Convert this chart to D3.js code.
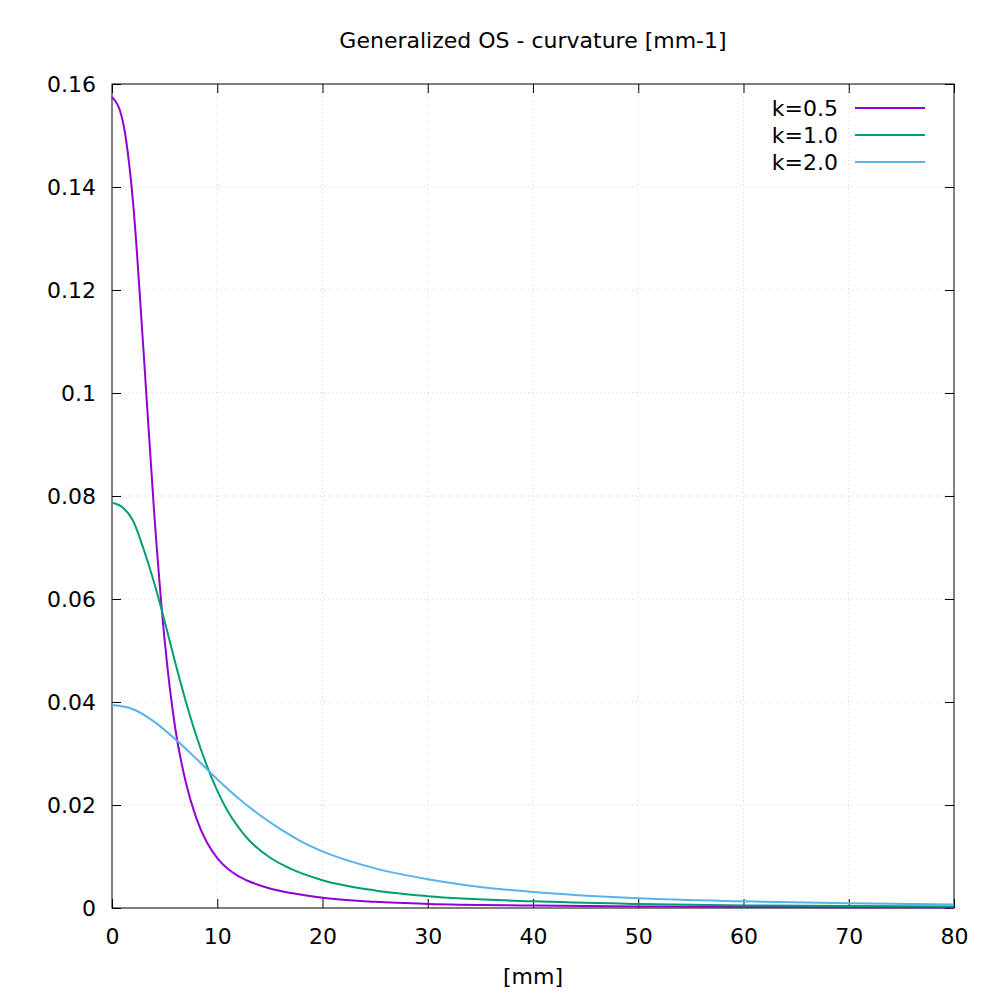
<!DOCTYPE html>
<html>
<head>
<meta charset="utf-8">
<script src="https://cdn.jsdelivr.net/npm/d3@7"></script>
<style>
  body { margin: 0; background: #fff; }
  text { font-family: "DejaVu Sans", sans-serif; fill: #000; }
</style>
</head>
<body>
<svg id="chart" width="1000" height="1000"></svg>
<script>
// values
const xK05 = [0, 1, 2, 3, 4, 5, 6, 7, 8, 9, 10, 11, 12, 13, 15, 17, 20, 25, 30, 40, 50, 60, 70, 80];
const yK05 = [0.1575, 0.153, 0.137, 0.108, 0.077, 0.052, 0.035, 0.0245, 0.0175, 0.0128, 0.0097, 0.0076, 0.0062, 0.0052, 0.0038, 0.0029, 0.002, 0.0012, 0.0008, 0.0005, 0.0003, 0.0002, 0.00015, 0.0001];
const xK10 = [0, 1, 2, 3, 4, 5, 6, 7, 8, 9, 10, 11, 12, 13, 15, 17, 20, 25, 30, 40, 50, 60, 70, 80];
const yK10 = [0.0787, 0.0778, 0.0752, 0.0697, 0.0632, 0.0557, 0.0477, 0.0402, 0.0335, 0.0277, 0.0228, 0.0188, 0.0157, 0.0132, 0.0098, 0.0076, 0.0054, 0.0034, 0.0023, 0.0013, 0.0008, 0.0005, 0.0004, 0.0003];
const xK20 = [0, 2, 4, 6, 8, 10, 12, 14, 16, 18, 20, 25, 30, 35, 40, 50, 60, 70, 80];
const yK20 = [0.0394, 0.0386, 0.0362, 0.0328, 0.0290, 0.0250, 0.0213, 0.0181, 0.0153, 0.0129, 0.0110, 0.0077, 0.0056, 0.0041, 0.0031, 0.0019, 0.0013, 0.0009, 0.0007];
const seriesNames = ['k=0.5', 'k=1.0', 'k=2.0'];
const seriesColors = ['#9400d3', '#009e73', '#56b4e9'];
const xTicks = [0, 10, 20, 30, 40, 50, 60, 70, 80];
const yTicks = [0, 0.02, 0.04, 0.06, 0.08, 0.1, 0.12, 0.14, 0.16];

const series = [
  xK05.map((x, i) => [x, yK05[i]]),
  xK10.map((x, i) => [x, yK10[i]]),
  xK20.map((x, i) => [x, yK20[i]])
];

const svg = d3.select('#chart');
const m = {l: 112, r: 954, t: 84, b: 908};

const x = d3.scaleLinear().domain([0, 80]).range([m.l, m.r]);
const y = d3.scaleLinear().domain([0, 0.16]).range([m.b, m.t]);

// grid
const grid = svg.append('g').attr('stroke', '#c8c8c8').attr('stroke-width', 0.8).attr('stroke-dasharray', '1 3');
xTicks.slice(1, -1).forEach(v => grid.append('line').attr('x1', x(v)).attr('x2', x(v)).attr('y1', m.t).attr('y2', m.b));
yTicks.slice(1, -1).forEach(v => grid.append('line').attr('y1', y(v)).attr('y2', y(v)).attr('x1', m.l).attr('x2', m.r));

// axes with inward ticks on all sides
const fmt = d => String(d);
svg.append('g').attr('transform', `translate(0,${m.b})`)
  .call(d3.axisBottom(x).tickValues(xTicks).tickSize(-9).tickPadding(20).tickFormat(fmt));
svg.append('g').attr('transform', `translate(0,${m.t})`)
  .call(d3.axisTop(x).tickValues(xTicks).tickSize(-9).tickFormat(''));
svg.append('g').attr('transform', `translate(${m.l},0)`)
  .call(d3.axisLeft(y).tickValues(yTicks).tickSize(-9).tickPadding(16).tickFormat(fmt));
svg.append('g').attr('transform', `translate(${m.r},0)`)
  .call(d3.axisRight(y).tickValues(yTicks).tickSize(-9).tickFormat(''));
svg.selectAll('.domain').remove();
svg.selectAll('.tick text').style('font-size', '22px').attr('font-family', 'DejaVu Sans');
svg.selectAll('.tick line').attr('stroke', '#000');
svg.append('rect').attr('x', m.l).attr('y', m.t).attr('width', m.r - m.l).attr('height', m.b - m.t)
  .attr('fill', 'none').attr('stroke', '#000').attr('stroke-width', 1);

// curves
const line = d3.line().x(d => x(d[0])).y(d => y(d[1])).curve(d3.curveMonotoneX);
series.forEach((s, i) => {
  svg.append('path').datum(s).attr('d', line)
    .attr('fill', 'none').attr('stroke', seriesColors[i]).attr('stroke-width', 2);
});

// legend
seriesNames.forEach((n, i) => {
  const ly = 108 + i * 27;
  svg.append('text').attr('x', 838).attr('y', ly + 8).attr('text-anchor', 'end')
    .style('font-size', '22px').text(n);
  svg.append('line').attr('x1', 855).attr('x2', 925).attr('y1', ly).attr('y2', ly)
    .attr('stroke', seriesColors[i]).attr('stroke-width', 2);
});

// titles
svg.append('text').attr('x', 533).attr('y', 48).attr('text-anchor', 'middle')
  .style('font-size', '22px').text('Generalized OS - curvature [mm-1]');
svg.append('text').attr('x', 533).attr('y', 984).attr('text-anchor', 'middle')
  .style('font-size', '22px').text('[mm]');
</script>
</body>
</html>
